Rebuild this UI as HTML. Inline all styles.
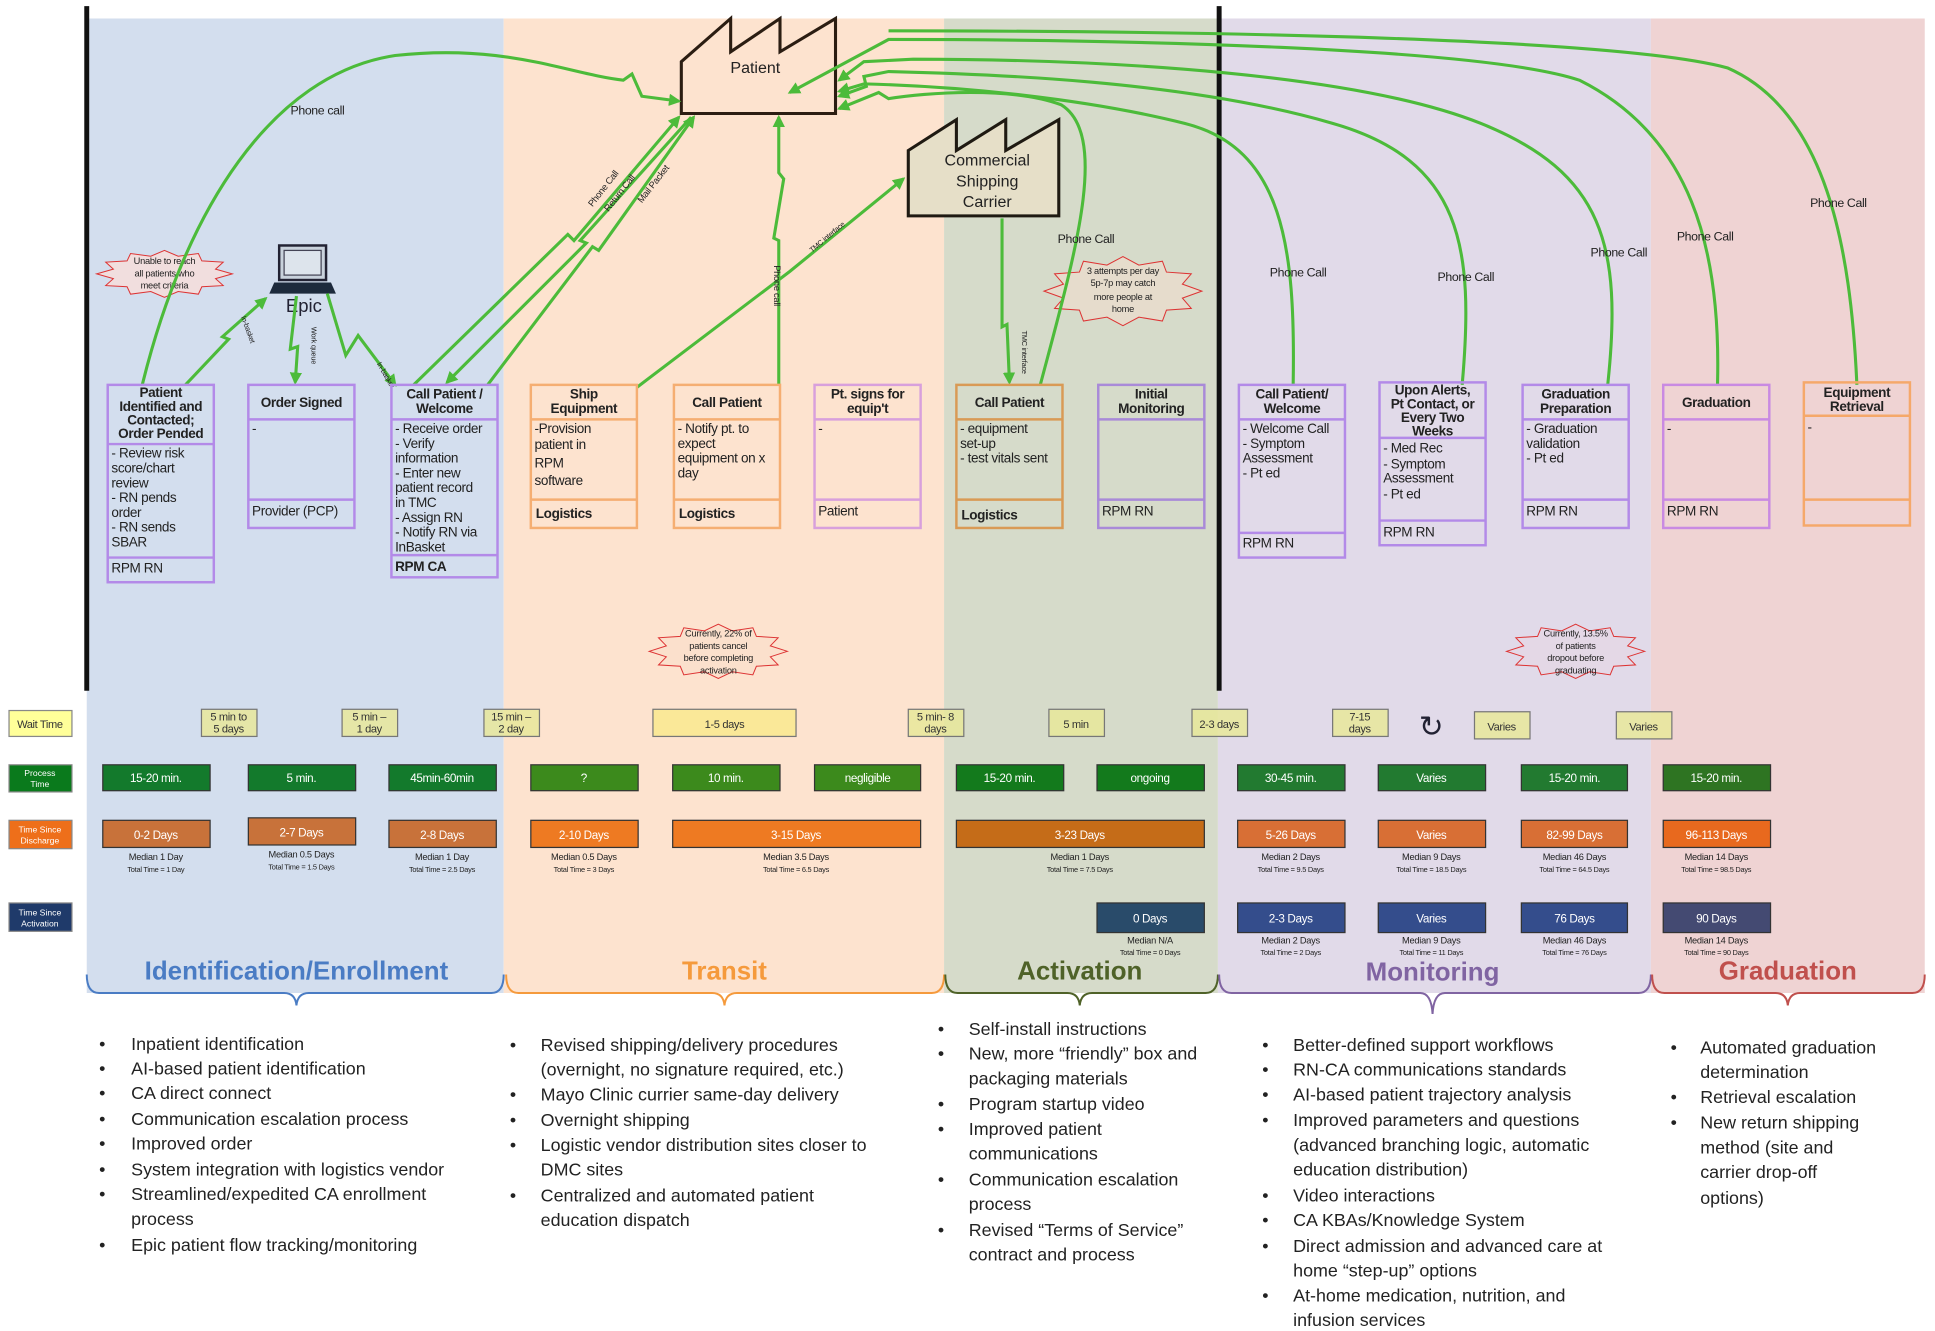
<!DOCTYPE html>
<html><head><meta charset="utf-8"><style>
html,body{margin:0;padding:0;background:#fff;}
svg{display:block;font-family:"Liberation Sans",sans-serif;}
.bt{font-size:11px;fill:#222;letter-spacing:-0.3px}
.bh{font-size:11px;font-weight:bold;fill:#222;letter-spacing:-0.3px}
.lb{font-size:10px;fill:#222;letter-spacing:-0.3px}
.w{font-size:9px;fill:#333;letter-spacing:-0.3px}
.wt{font-size:9.5px;fill:#fff;letter-spacing:-0.3px}
.md{font-size:7.5px;fill:#222;letter-spacing:-0.2px}
.md2{font-size:6px;fill:#222;letter-spacing:-0.2px}
.bl{font-size:14.5px;fill:#222}
.g{stroke:#4cbb3a;stroke-width:2.5;fill:none}
.st{stroke:#d33;stroke-width:1;vector-effect:non-scaling-stroke}
</style></head><body>
<svg width="1935" height="1331" viewBox="0 0 1568 1079" xmlns="http://www.w3.org/2000/svg">
<defs>
<marker id="a" viewBox="0 0 10 10" refX="8" refY="5" markerWidth="4" markerHeight="4" orient="auto"><path d="M0,0 L10,5 L0,10 Z" fill="#4cbb3a"/></marker>
</defs>
<!-- lanes -->
<rect x="70" y="15" width="338" height="790" fill="#d3deee"/>
<rect x="408" y="15" width="357" height="790" fill="#fde3cf"/>
<rect x="765" y="15" width="222" height="790" fill="#d6dbca"/>
<rect x="987" y="15" width="351" height="790" fill="#e1dae9"/>
<rect x="1338" y="15" width="222" height="790" fill="#efd3d3"/>
<line x1="70" y1="5" x2="70" y2="560" stroke="#111" stroke-width="4"/>
<line x1="988" y1="5" x2="988" y2="560" stroke="#111" stroke-width="4"/>

<!-- factories -->
<path d="M552,50 L592,15 L592,42 L632,15 L632,42 L677,15 L677,92 L552,92 Z" fill="#fde3cf" stroke="#2b1d12" stroke-width="2.5"/>
<text x="612" y="59" font-size="13" text-anchor="middle" fill="#222">Patient</text>
<path d="M736,122 L775,97 L775,122 L815,97 L815,122 L858,97 L858,175 L736,175 Z" fill="#e6dfc8" stroke="#1f1a12" stroke-width="2.5"/>
<text x="800" y="134" font-size="13" text-anchor="middle" fill="#222">Commercial</text>
<text x="800" y="151" font-size="13" text-anchor="middle" fill="#222">Shipping</text>
<text x="800" y="168" font-size="13" text-anchor="middle" fill="#222">Carrier</text>

<!-- laptop -->
<rect x="226" y="199" width="38" height="28" fill="#c9d2dc" stroke="#223" stroke-width="2"/>
<rect x="230" y="203" width="30" height="20" fill="#dde4ec" stroke="#445" stroke-width="1"/>
<path d="M222,229 L268,229 L272,238 L218,238 Z" fill="#1d2a3c"/>
<text x="246" y="253" font-size="15" text-anchor="middle" fill="#223">Epic</text>

<!-- callouts -->
<g transform="translate(133,222) scale(55,19)"><polygon class="st" fill="#f1dede" points="1,0 .753,.202 .866,.5 .551,.551 .5,.866 .202,.753 0,1 -.202,.753 -.5,.866 -.551,.551 -.866,.5 -.753,.202 -1,0 -.753,-.202 -.866,-.5 -.551,-.551 -.5,-.866 -.202,-.753 0,-1 .202,-.753 .5,-.866 .551,-.551 .866,-.5 .753,-.202"/></g>
<text class="md" text-anchor="middle" x="133" y="214">Unable to reach</text>
<text class="md" text-anchor="middle" x="133" y="224">all patients who</text>
<text class="md" text-anchor="middle" x="133" y="234">meet criteria</text>
<g transform="translate(910,236) scale(64,28)"><polygon class="st" fill="#e6dccc" points="1,0 .753,.202 .866,.5 .551,.551 .5,.866 .202,.753 0,1 -.202,.753 -.5,.866 -.551,.551 -.866,.5 -.753,.202 -1,0 -.753,-.202 -.866,-.5 -.551,-.551 -.5,-.866 -.202,-.753 0,-1 .202,-.753 .5,-.866 .551,-.551 .866,-.5 .753,-.202"/></g>
<text class="md" text-anchor="middle" x="910" y="222">3 attempts per day</text>
<text class="md" text-anchor="middle" x="910" y="232">5p-7p may catch</text>
<text class="md" text-anchor="middle" x="910" y="243">more people at</text>
<text class="md" text-anchor="middle" x="910" y="253">home</text>
<g transform="translate(582,528) scale(56,22)"><polygon class="st" fill="#fbe0cc" points="1,0 .753,.202 .866,.5 .551,.551 .5,.866 .202,.753 0,1 -.202,.753 -.5,.866 -.551,.551 -.866,.5 -.753,.202 -1,0 -.753,-.202 -.866,-.5 -.551,-.551 -.5,-.866 -.202,-.753 0,-1 .202,-.753 .5,-.866 .551,-.551 .866,-.5 .753,-.202"/></g>
<text class="md" text-anchor="middle" x="582" y="516">Currently, 22% of</text>
<text class="md" text-anchor="middle" x="582" y="526">patients cancel</text>
<text class="md" text-anchor="middle" x="582" y="536">before completing</text>
<text class="md" text-anchor="middle" x="582" y="546">activation</text>
<g transform="translate(1277,528) scale(56,22)"><polygon class="st" fill="#e4d8e6" points="1,0 .753,.202 .866,.5 .551,.551 .5,.866 .202,.753 0,1 -.202,.753 -.5,.866 -.551,.551 -.866,.5 -.753,.202 -1,0 -.753,-.202 -.866,-.5 -.551,-.551 -.5,-.866 -.202,-.753 0,-1 .202,-.753 .5,-.866 .551,-.551 .866,-.5 .753,-.202"/></g>
<text class="md" text-anchor="middle" x="1277" y="516">Currently, 13.5%</text>
<text class="md" text-anchor="middle" x="1277" y="526">of patients</text>
<text class="md" text-anchor="middle" x="1277" y="536">dropout before</text>
<text class="md" text-anchor="middle" x="1277" y="546">graduating</text>

<!-- connectors -->
<path class="g" marker-end="url(#a)" d="M115,312 C150,170 220,60 320,45 C410,35 460,60 505,65 L512,60 L520,78 L550,82"/>
<text class="lb" x="257" y="93" text-anchor="middle">Phone call</text>
<path class="g" marker-end="url(#a)" d="M150,312 L185,275 L180,273 L215,242"/>
<text class="md2" transform="translate(195,257) rotate(70)">In-basket</text>
<path class="g" marker-end="url(#a)" d="M240,240 L235,283 L241,281 L239,310"/>
<text class="md2" transform="translate(252,265) rotate(90)">Work queue</text>
<path class="g" marker-end="url(#a)" d="M265,238 L280,288 L290,272 L320,312"/>
<text class="md2" transform="translate(305,295) rotate(60)">In-basket</text>
<path class="g" marker-end="url(#a)" d="M335,312 L460,190 L465,195 L550,95"/>
<path class="g" marker-end="url(#a)" d="M560,95 L470,195 L475,197 L362,310"/>
<path class="g" marker-end="url(#a)" d="M395,312 L480,200 L485,203 L562,95"/>
<text class="md" transform="translate(480,168) rotate(-52)">Phone Call</text>
<text class="md" transform="translate(493,172) rotate(-52)">Return Call</text>
<text class="md" transform="translate(520,165) rotate(-52)">Mail Packet</text>
<path class="g" marker-end="url(#a)" d="M516,314 L640,220 L732,145"/>
<text class="md2" transform="translate(658,205) rotate(-40)">TMC interface</text>
<path class="g" marker-end="url(#a)" d="M631,312 L631,195 L627,193 L635,145 L631,140 L631,95"/>
<text class="md" transform="translate(627,215) rotate(90)">Phone call</text>
<path class="g" marker-end="url(#a)" d="M812,177 L812,265 L816,263 L818,310"/>
<text class="md2" transform="translate(828,268) rotate(90)">TMC interface</text>
<path class="g" marker-end="url(#a)" d="M843,312 C870,210 900,110 860,85 C820,70 750,75 720,80 L712,75 L680,88"/>
<text class="lb" x="880" y="197" text-anchor="middle">Phone Call</text>
<path class="g" marker-end="url(#a)" d="M1048,312 C1050,200 1040,120 960,100 C880,80 780,70 700,68 L680,74"/>
<text class="lb" x="1052" y="224" text-anchor="middle">Phone Call</text>
<path class="g" marker-end="url(#a)" d="M1185,312 C1195,200 1185,130 1080,100 C960,65 800,60 720,58 L700,62 L702,70 L680,78"/>
<text class="lb" x="1188" y="228" text-anchor="middle">Phone Call</text>
<path class="g" marker-end="url(#a)" d="M1303,312 C1315,200 1300,140 1200,100 C1100,60 900,48 740,48 L700,50 L680,65"/>
<text class="lb" x="1312" y="208" text-anchor="middle">Phone Call</text>
<path class="g" marker-end="url(#a)" d="M1392,312 C1395,200 1370,110 1280,65 C1200,38 900,32 720,32 L640,75"/>
<text class="lb" x="1382" y="195" text-anchor="middle">Phone Call</text>
<path class="g" d="M1505,312 C1500,200 1480,90 1400,55 C1300,28 900,25 720,25"/>
<text class="lb" x="1490" y="168" text-anchor="middle">Phone Call</text>

<!-- process boxes -->
<g fill="none" stroke-width="2">
<g stroke="#b38ae8"><rect x="87" y="312" width="86" height="160"/><line x1="87" y1="360" x2="173" y2="360"/><line x1="87" y1="452" x2="173" y2="452"/></g>
<g stroke="#b38ae8"><rect x="201" y="312" width="86" height="116"/><line x1="201" y1="340" x2="287" y2="340"/><line x1="201" y1="405" x2="287" y2="405"/></g>
<g stroke="#b38ae8"><rect x="317" y="312" width="86" height="156"/><line x1="317" y1="340" x2="403" y2="340"/><line x1="317" y1="450" x2="403" y2="450"/></g>
<g stroke="#f5ae72"><rect x="430" y="312" width="86" height="116"/><line x1="430" y1="340" x2="516" y2="340"/><line x1="430" y1="405" x2="516" y2="405"/></g>
<g stroke="#f5ae72"><rect x="546" y="312" width="86" height="116"/><line x1="546" y1="340" x2="632" y2="340"/><line x1="546" y1="405" x2="632" y2="405"/></g>
<g stroke="#d8a0dc"><rect x="660" y="312" width="86" height="116"/><line x1="660" y1="340" x2="746" y2="340"/><line x1="660" y1="405" x2="746" y2="405"/></g>
<g stroke="#d99a55"><rect x="775" y="312" width="86" height="116"/><line x1="775" y1="340" x2="861" y2="340"/><line x1="775" y1="405" x2="861" y2="405"/></g>
<g stroke="#a98ad8"><rect x="890" y="312" width="86" height="116"/><line x1="890" y1="340" x2="976" y2="340"/><line x1="890" y1="405" x2="976" y2="405"/></g>
<g stroke="#b38ae8"><rect x="1004" y="312" width="86" height="140"/><line x1="1004" y1="340" x2="1090" y2="340"/><line x1="1004" y1="432" x2="1090" y2="432"/></g>
<g stroke="#b38ae8"><rect x="1118" y="310" width="86" height="132"/><line x1="1118" y1="355" x2="1204" y2="355"/><line x1="1118" y1="422" x2="1204" y2="422"/></g>
<g stroke="#b38ae8"><rect x="1234" y="312" width="86" height="116"/><line x1="1234" y1="340" x2="1320" y2="340"/><line x1="1234" y1="405" x2="1320" y2="405"/></g>
<g stroke="#c98ae2"><rect x="1348" y="312" width="86" height="116"/><line x1="1348" y1="340" x2="1434" y2="340"/><line x1="1348" y1="405" x2="1434" y2="405"/></g>
<g stroke="#f5a86a"><rect x="1462" y="310" width="86" height="116"/><line x1="1462" y1="337" x2="1548" y2="337"/><line x1="1462" y1="405" x2="1548" y2="405"/></g>
</g>
<g text-anchor="middle">
<text class="bh" x="130" y="322">Patient</text><text class="bh" x="130" y="333">Identified and</text><text class="bh" x="130" y="344">Contacted;</text><text class="bh" x="130" y="355">Order Pended</text>
<text class="bh" x="244" y="330">Order Signed</text>
<text class="bh" x="360" y="323">Call Patient /</text><text class="bh" x="360" y="335">Welcome</text>
<text class="bh" x="473" y="323">Ship</text><text class="bh" x="473" y="335">Equipment</text>
<text class="bh" x="589" y="330">Call Patient</text>
<text class="bh" x="703" y="323">Pt. signs for</text><text class="bh" x="703" y="335">equip't</text>
<text class="bh" x="818" y="330">Call Patient</text>
<text class="bh" x="933" y="323">Initial</text><text class="bh" x="933" y="335">Monitoring</text>
<text class="bh" x="1047" y="323">Call Patient/</text><text class="bh" x="1047" y="335">Welcome</text>
<text class="bh" x="1161" y="320">Upon Alerts,</text><text class="bh" x="1161" y="331">Pt Contact, or</text><text class="bh" x="1161" y="342">Every Two</text><text class="bh" x="1161" y="353">Weeks</text>
<text class="bh" x="1277" y="323">Graduation</text><text class="bh" x="1277" y="335">Preparation</text>
<text class="bh" x="1391" y="330">Graduation</text>
<text class="bh" x="1505" y="322">Equipment</text><text class="bh" x="1505" y="333">Retrieval</text>
</g>
<g class="bt">
<text class="bt" x="90" y="371">- Review risk</text><text class="bt" x="90" y="383">score/chart</text><text class="bt" x="90" y="395">review</text><text class="bt" x="90" y="407">- RN pends</text><text class="bt" x="90" y="419">order</text><text class="bt" x="90" y="431">- RN sends</text><text class="bt" x="90" y="443">SBAR</text>
<text class="bt" x="90" y="464">RPM RN</text>
<text class="bt" x="204" y="351">-</text><text class="bt" x="204" y="418">Provider (PCP)</text>
<text class="bt" x="320" y="351">- Receive order</text><text class="bt" x="320" y="363">- Verify</text><text class="bt" x="320" y="375">information</text><text class="bt" x="320" y="387">- Enter new</text><text class="bt" x="320" y="399">patient record</text><text class="bt" x="320" y="411">in TMC</text><text class="bt" x="320" y="423">- Assign RN</text><text class="bt" x="320" y="435">- Notify RN via</text><text class="bt" x="320" y="447">InBasket</text>
<text class="bh" x="320" y="463">RPM CA</text>
<text class="bt" x="433" y="351">-Provision</text><text class="bt" x="433" y="364">patient in</text><text class="bt" x="433" y="379">RPM</text><text class="bt" x="433" y="393">software</text>
<text class="bh" x="434" y="420">Logistics</text>
<text class="bt" x="549" y="351">- Notify pt. to</text><text class="bt" x="549" y="363">expect</text><text class="bt" x="549" y="375">equipment on x</text><text class="bt" x="549" y="387">day</text>
<text class="bh" x="550" y="420">Logistics</text>
<text class="bt" x="663" y="351">-</text><text class="bt" x="663" y="418">Patient</text>
<text class="bt" x="778" y="351">- equipment</text><text class="bt" x="778" y="363">set-up</text><text class="bt" x="778" y="375">- test vitals sent</text>
<text class="bh" x="779" y="421">Logistics</text>
<text class="bt" x="893" y="418">RPM RN</text>
<text class="bt" x="1007" y="351">- Welcome Call</text><text class="bt" x="1007" y="363">- Symptom</text><text class="bt" x="1007" y="375">Assessment</text><text class="bt" x="1007" y="387">- Pt ed</text>
<text class="bt" x="1007" y="444">RPM RN</text>
<text class="bt" x="1121" y="367">- Med Rec</text><text class="bt" x="1121" y="380">- Symptom</text><text class="bt" x="1121" y="391">Assessment</text><text class="bt" x="1121" y="404">- Pt ed</text>
<text class="bt" x="1121" y="435">RPM RN</text>
<text class="bt" x="1237" y="351">- Graduation</text><text class="bt" x="1237" y="363">validation</text><text class="bt" x="1237" y="375">- Pt ed</text>
<text class="bt" x="1237" y="418">RPM RN</text>
<text class="bt" x="1351" y="351">-</text><text class="bt" x="1351" y="418">RPM RN</text>
<text class="bt" x="1465" y="350">-</text>
</g>

<!-- row labels -->
<rect x="7" y="576" width="51" height="21" fill="#ffff99" stroke="#888" stroke-width="1"/>
<text class="w" x="32" y="590" text-anchor="middle" fill="#222">Wait Time</text>
<rect x="7" y="620" width="51" height="22" fill="#0a7a1c" stroke="#888" stroke-width="1"/>
<text x="32" y="629" font-size="7" fill="#fff" text-anchor="middle">Process</text><text x="32" y="638" font-size="7" fill="#fff" text-anchor="middle">Time</text>
<rect x="7" y="665" width="51" height="23" fill="#ee6f1a" stroke="#888" stroke-width="1"/>
<text x="32" y="675" font-size="7" fill="#fff" text-anchor="middle">Time Since</text><text x="32" y="684" font-size="7" fill="#fff" text-anchor="middle">Discharge</text>
<rect x="7" y="732" width="51" height="23" fill="#1f3a6a" stroke="#888" stroke-width="1"/>
<text x="32" y="742" font-size="7" fill="#fff" text-anchor="middle">Time Since</text><text x="32" y="751" font-size="7" fill="#fff" text-anchor="middle">Activation</text>

<!-- wait boxes -->
<g stroke="#777" stroke-width="1" fill="#e8e89a" fill-opacity="0.85">
<rect x="163" y="575" width="45" height="22"/><rect x="277" y="575" width="45" height="22"/><rect x="392" y="575" width="45" height="22"/>
<rect x="529" y="575" width="116" height="22" fill="#f9e98e"/><rect x="736" y="575" width="45" height="22"/><rect x="850" y="575" width="45" height="22"/>
<rect x="966" y="575" width="45" height="22"/><rect x="1080" y="575" width="45" height="22"/><rect x="1195" y="577" width="45" height="22"/><rect x="1310" y="577" width="45" height="22"/>
</g>
<g text-anchor="middle">
<text class="w" x="185" y="584">5 min to</text><text class="w" x="185" y="594">5 days</text>
<text class="w" x="299" y="584">5 min –</text><text class="w" x="299" y="594">1 day</text>
<text class="w" x="414" y="584">15 min –</text><text class="w" x="414" y="594">2 day</text>
<text class="w" x="587" y="590">1-5 days</text>
<text class="w" x="758" y="584">5 min- 8</text><text class="w" x="758" y="594">days</text>
<text class="w" x="872" y="590">5 min</text>
<text class="w" x="988" y="590">2-3 days</text>
<text class="w" x="1102" y="584">7-15</text><text class="w" x="1102" y="594">days</text>
<text x="1160" y="597" font-size="24" fill="#223">↻</text>
<text class="w" x="1217" y="592">Varies</text>
<text class="w" x="1332" y="592">Varies</text>
</g>

<!-- process time -->
<g stroke="#333" stroke-width="1">
<rect x="83" y="620" width="87" height="21" fill="#137a2c"/><rect x="201" y="620" width="87" height="21" fill="#137a2c"/><rect x="315" y="620" width="87" height="21" fill="#137a2c"/>
<rect x="430" y="620" width="87" height="21" fill="#3c8a1c"/><rect x="545" y="620" width="87" height="21" fill="#3c8a1c"/><rect x="660" y="620" width="86" height="21" fill="#3c8a1c"/>
<rect x="775" y="620" width="87" height="21" fill="#137a1c"/><rect x="889" y="620" width="87" height="21" fill="#137a1c"/>
<rect x="1003" y="620" width="87" height="21" fill="#227a30"/><rect x="1117" y="620" width="87" height="21" fill="#227a30"/><rect x="1233" y="620" width="86" height="21" fill="#227a30"/>
<rect x="1348" y="620" width="87" height="21" fill="#2e7422"/>
</g>
<g text-anchor="middle" class="wt">
<text class="wt" x="126" y="634">15-20 min.</text><text class="wt" x="244" y="634">5 min.</text><text class="wt" x="358" y="634">45min-60min</text>
<text class="wt" x="473" y="634">?</text><text class="wt" x="588" y="634">10 min.</text><text class="wt" x="703" y="634">negligible</text>
<text class="wt" x="818" y="634">15-20 min.</text><text class="wt" x="932" y="634">ongoing</text>
<text class="wt" x="1046" y="634">30-45 min.</text><text class="wt" x="1160" y="634">Varies</text><text class="wt" x="1276" y="634">15-20 min.</text><text class="wt" x="1391" y="634">15-20 min.</text>
</g>

<!-- discharge -->
<g stroke="#333" stroke-width="1">
<rect x="83" y="665" width="87" height="22" fill="#c8723a"/><rect x="201" y="663" width="87" height="22" fill="#c8723a"/><rect x="315" y="665" width="87" height="22" fill="#c8723a"/>
<rect x="430" y="665" width="87" height="22" fill="#ee7a22"/><rect x="545" y="665" width="201" height="22" fill="#ee7a22"/>
<rect x="775" y="665" width="201" height="22" fill="#c56c18"/>
<rect x="1003" y="665" width="87" height="22" fill="#d86f35"/><rect x="1117" y="665" width="87" height="22" fill="#d86f35"/><rect x="1233" y="665" width="86" height="22" fill="#d86f35"/>
<rect x="1348" y="665" width="87" height="22" fill="#e8691e"/>
</g>
<g text-anchor="middle">
<text class="wt" x="126" y="680">0-2 Days</text><text class="wt" x="244" y="678">2-7 Days</text><text class="wt" x="358" y="680">2-8 Days</text>
<text class="wt" x="473" y="680">2-10 Days</text><text class="wt" x="645" y="680">3-15 Days</text><text class="wt" x="875" y="680">3-23 Days</text>
<text class="wt" x="1046" y="680">5-26 Days</text><text class="wt" x="1160" y="680">Varies</text><text class="wt" x="1276" y="680">82-99 Days</text><text class="wt" x="1391" y="680">96-113 Days</text>
<text class="md" x="126" y="697">Median 1 Day</text><text class="md2" x="126" y="707">Total Time = 1 Day</text>
<text class="md" x="244" y="695">Median 0.5 Days</text><text class="md2" x="244" y="705">Total Time = 1.5 Days</text>
<text class="md" x="358" y="697">Median 1 Day</text><text class="md2" x="358" y="707">Total Time = 2.5 Days</text>
<text class="md" x="473" y="697">Median 0.5 Days</text><text class="md2" x="473" y="707">Total Time = 3 Days</text>
<text class="md" x="645" y="697">Median 3.5 Days</text><text class="md2" x="645" y="707">Total Time = 6.5 Days</text>
<text class="md" x="875" y="697">Median 1 Days</text><text class="md2" x="875" y="707">Total Time = 7.5 Days</text>
<text class="md" x="1046" y="697">Median 2 Days</text><text class="md2" x="1046" y="707">Total Time = 9.5 Days</text>
<text class="md" x="1160" y="697">Median 9 Days</text><text class="md2" x="1160" y="707">Total Time = 18.5 Days</text>
<text class="md" x="1276" y="697">Median 46 Days</text><text class="md2" x="1276" y="707">Total Time = 64.5 Days</text>
<text class="md" x="1391" y="697">Median 14 Days</text><text class="md2" x="1391" y="707">Total Time = 98.5 Days</text>
</g>

<!-- activation -->
<g stroke="#333" stroke-width="1">
<rect x="889" y="732" width="87" height="24" fill="#294b6a"/>
<rect x="1003" y="732" width="87" height="24" fill="#344d8c"/><rect x="1117" y="732" width="87" height="24" fill="#344d8c"/><rect x="1233" y="732" width="86" height="24" fill="#344d8c"/>
<rect x="1348" y="732" width="87" height="24" fill="#444a72"/>
</g>
<g text-anchor="middle">
<text class="wt" x="932" y="748">0 Days</text><text class="wt" x="1046" y="748">2-3 Days</text><text class="wt" x="1160" y="748">Varies</text><text class="wt" x="1276" y="748">76 Days</text><text class="wt" x="1391" y="748">90 Days</text>
<text class="md" x="932" y="765">Median N/A</text><text class="md2" x="932" y="774">Total Time = 0 Days</text>
<text class="md" x="1046" y="765">Median 2 Days</text><text class="md2" x="1046" y="774">Total Time = 2 Days</text>
<text class="md" x="1160" y="765">Median 9 Days</text><text class="md2" x="1160" y="774">Total Time = 11 Days</text>
<text class="md" x="1276" y="765">Median 46 Days</text><text class="md2" x="1276" y="774">Total Time = 76 Days</text>
<text class="md" x="1391" y="765">Median 14 Days</text><text class="md2" x="1391" y="774">Total Time = 90 Days</text>
</g>

<!-- phase titles & brackets -->
<g font-size="21" font-weight="bold" text-anchor="middle">
<text x="240" y="794" fill="#4a7cc4">Identification/Enrollment</text>
<text x="587" y="794" fill="#f59a3c">Transit</text>
<text x="875" y="794" fill="#4f6228">Activation</text>
<text x="1161" y="795" fill="#8064a2">Monitoring</text>
<text x="1449" y="794" fill="#c0504d">Graduation</text>
</g>
<g fill="none" stroke-width="1.6">
<path stroke="#4a7cc4" d="M70,790 Q70,805 80,805 L230,805 Q239,805 240,815 Q241,805 250,805 L398,805 Q408,805 408,790"/>
<path stroke="#f59a3c" d="M410,790 Q410,805 420,805 L577,805 Q586,805 587,815 Q588,805 597,805 L755,805 Q765,805 765,790"/>
<path stroke="#4f6228" d="M766,790 Q766,805 776,805 L865,805 Q874,805 875,815 Q876,805 885,805 L977,805 Q987,805 987,790"/>
<path stroke="#8064a2" d="M988,790 Q988,805 998,805 L1151,805 Q1160,805 1161,822 Q1162,805 1171,805 L1328,805 Q1338,805 1338,790"/>
<path stroke="#c0504d" d="M1339,790 Q1339,805 1349,805 L1439,805 Q1448,805 1449,815 Q1450,805 1459,805 L1550,805 Q1560,805 1560,790"/>
</g>

<!-- bullets -->
<g class="bl">
<g><text x="80" y="851">•</text><text x="106" y="851">Inpatient identification</text>
<text x="80" y="871">•</text><text x="106" y="871">AI-based patient identification</text>
<text x="80" y="891">•</text><text x="106" y="891">CA direct connect</text>
<text x="80" y="912">•</text><text x="106" y="912">Communication escalation process</text>
<text x="80" y="932">•</text><text x="106" y="932">Improved order</text>
<text x="80" y="953">•</text><text x="106" y="953">System integration with logistics vendor</text>
<text x="80" y="973">•</text><text x="106" y="973">Streamlined/expedited CA enrollment</text>
<text x="106" y="993">process</text>
<text x="80" y="1014">•</text><text x="106" y="1014">Epic patient flow tracking/monitoring</text></g>
<g><text x="413" y="852">•</text><text x="438" y="852">Revised shipping/delivery procedures</text>
<text x="438" y="872">(overnight, no signature required, etc.)</text>
<text x="413" y="892">•</text><text x="438" y="892">Mayo Clinic currier same-day delivery</text>
<text x="413" y="913">•</text><text x="438" y="913">Overnight shipping</text>
<text x="413" y="933">•</text><text x="438" y="933">Logistic vendor distribution sites closer to</text>
<text x="438" y="953">DMC sites</text>
<text x="413" y="974">•</text><text x="438" y="974">Centralized and automated patient</text>
<text x="438" y="994">education dispatch</text></g>
<g><text x="760" y="839">•</text><text x="785" y="839">Self-install instructions</text>
<text x="760" y="859">•</text><text x="785" y="859">New, more “friendly” box and</text>
<text x="785" y="879">packaging materials</text>
<text x="760" y="900">•</text><text x="785" y="900">Program startup video</text>
<text x="760" y="920">•</text><text x="785" y="920">Improved patient</text>
<text x="785" y="940">communications</text>
<text x="760" y="961">•</text><text x="785" y="961">Communication escalation</text>
<text x="785" y="981">process</text>
<text x="760" y="1002">•</text><text x="785" y="1002">Revised “Terms of Service”</text>
<text x="785" y="1022">contract and process</text></g>
<g><text x="1023" y="852">•</text><text x="1048" y="852">Better-defined support workflows</text>
<text x="1023" y="872">•</text><text x="1048" y="872">RN-CA communications standards</text>
<text x="1023" y="892">•</text><text x="1048" y="892">AI-based patient trajectory analysis</text>
<text x="1023" y="913">•</text><text x="1048" y="913">Improved parameters and questions</text>
<text x="1048" y="933">(advanced branching logic, automatic</text>
<text x="1048" y="953">education distribution)</text>
<text x="1023" y="974">•</text><text x="1048" y="974">Video interactions</text>
<text x="1023" y="994">•</text><text x="1048" y="994">CA KBAs/Knowledge System</text>
<text x="1023" y="1015">•</text><text x="1048" y="1015">Direct admission and advanced care at</text>
<text x="1048" y="1035">home “step-up” options</text>
<text x="1023" y="1055">•</text><text x="1048" y="1055">At-home medication, nutrition, and</text>
<text x="1048" y="1075">infusion services</text></g>
<g><text x="1354" y="854">•</text><text x="1378" y="854">Automated graduation</text>
<text x="1378" y="874">determination</text>
<text x="1354" y="894">•</text><text x="1378" y="894">Retrieval escalation</text>
<text x="1354" y="915">•</text><text x="1378" y="915">New return shipping</text>
<text x="1378" y="935">method (site and</text>
<text x="1378" y="955">carrier drop-off</text>
<text x="1378" y="976">options)</text></g>
</g>
</svg>
</body></html>
